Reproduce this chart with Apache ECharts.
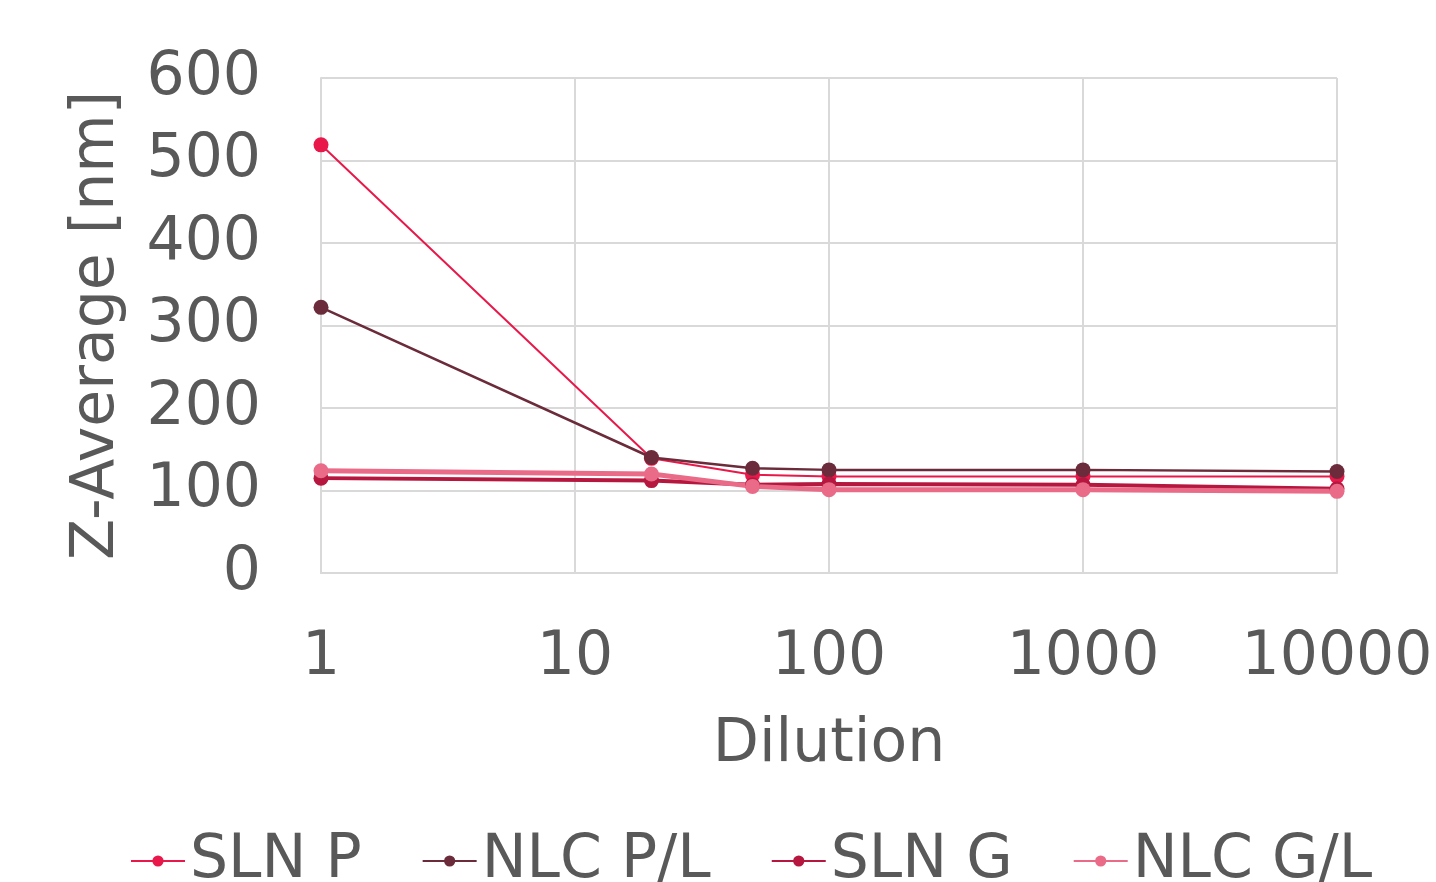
<!DOCTYPE html>
<html><head><meta charset="utf-8">
<script src="https://cdn.jsdelivr.net/npm/echarts@6/dist/echarts.min.js"></script>
<style>html,body{margin:0;padding:0;background:#fff}#c{width:1436px;height:882px}</style>
</head><body><div id="c"></div>
<script>
const dilutions = [1, 20, 50, 100, 1000, 10000];
const xTicks = [1, 10, 100, 1000, 10000];
const yTicks = [0, 100, 200, 300, 400, 500, 600];
const seriesNames = ['SLN P', 'NLC P/L', 'SLN G', 'NLC G/L'];
const slnP = [519, 139, 119, 117, 117, 117];
const nlcPL = [322, 140, 127, 125, 125, 123];
const slnG = [115, 112, 107, 108, 107, 102];
const nlcGL = [124, 120, 105, 101, 101, 99];
const colors = ['#E8194A', '#6B2B3A', '#B5173F', '#E96B88'];
const widths = [2, 2.5, 4, 5];

const font = 'DejaVu Sans';
const grey = '#595959';
const allVals = [slnP, nlcPL, slnG, nlcGL];
const chart = echarts.init(document.getElementById('c'));
chart.setOption({
  animation: false,
  color: colors,
  textStyle: { fontFamily: font },
  grid: { left: 321, right: 99, top: 78, bottom: 309, containLabel: false },
  legend: {
    bottom: -14, left: 125, itemWidth: 54, itemHeight: 14, itemGap: 60,
    textStyle: { fontSize: 60, color: grey, fontFamily: font, fontWeight: 'normal' },
    data: seriesNames
  },
  xAxis: {
    type: 'log', logBase: 10, min: xTicks[0], max: xTicks[xTicks.length - 1],
    name: 'Dilution', nameLocation: 'middle', nameGap: 142,
    nameTextStyle: { fontSize: 60, color: grey, fontFamily: font },
    axisLine: { lineStyle: { color: '#d9d9d9', width: 2 } },
    axisTick: { show: false },
    axisLabel: { fontSize: 60, color: grey, margin: 55,
      formatter: v => String(Math.round(v)) },
    splitLine: { show: true, lineStyle: { color: '#d9d9d9', width: 2 } },
    minorSplitLine: { show: false }
  },
  yAxis: {
    type: 'value', min: yTicks[0], max: yTicks[yTicks.length - 1], interval: 100,
    name: 'Z-Average [nm]', nameLocation: 'middle', nameGap: 194,
    nameTextStyle: { fontSize: 60, color: grey, fontFamily: font },
    axisLine: { show: true, lineStyle: { color: '#d9d9d9', width: 2 } },
    axisTick: { show: false },
    axisLabel: { fontSize: 60, color: grey, margin: 60 },
    splitLine: { lineStyle: { color: '#d9d9d9', width: 2 } }
  },
  series: seriesNames.map((n, i) => ({
    name: n, type: 'line',
    data: dilutions.map((d, j) => [d, allVals[i][j]]),
    symbol: 'circle', symbolSize: 15,
    lineStyle: { width: widths[i], color: colors[i] },
    itemStyle: { color: colors[i] }
  }))
});
</script></body></html>
